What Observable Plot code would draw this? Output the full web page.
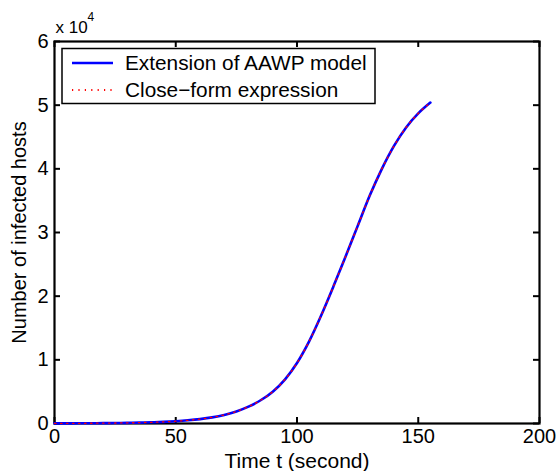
<!DOCTYPE html>
<html>
<head>
<meta charset="utf-8">
<script src="https://cdn.jsdelivr.net/npm/d3@7"></script>
<script src="https://cdn.jsdelivr.net/npm/@observablehq/plot@0.6"></script>
<style>
  html, body { margin: 0; padding: 0; background: #fff; }
  #chart { width: 558px; height: 471px; }
</style>
</head>
<body>
<div id="chart"></div>
<script>
// Time (seconds)
const t = [0,5,10,15,20,25,30,35,40,45,50,55,60,65,70,75,80,85,90,95,100,105,110,115,120,125,130,135,140,145,150,155];
// Extension of AAWP model (number of infected hosts)
const extension = [16,22,30,40,55,75,100,140,190,260,360,500,690,960,1350,1900,2650,3650,5000,6900,9500,12900,17000,21500,26200,31000,35800,40000,43600,46500,48700,50400];
// Close-form expression (coincides with the model)
const closeForm = [16,22,30,40,55,75,100,140,190,260,360,500,690,960,1350,1900,2650,3650,5000,6900,9500,12900,17000,21500,26200,31000,35800,40000,43600,46500,48700,50400];
// Tick values
const xTicks = [0,50,100,150,200];
const yTicks = [0,1,2,3,4,5,6]; // in units of 10^4
const legendLabels = ["Extension of AAWP model", "Close\u2212form expression"];

const W = 558, H = 471;
const mL = 54, mR = 19, mT = 41, mB = 48;
const plotW = W - mL - mR, plotH = H - mT - mB;
const tickLen = 6;
const font = "'Liberation Sans', Arial, Helvetica, sans-serif";

const chart = Plot.plot({
  width: W, height: H,
  marginLeft: mL, marginRight: mR, marginTop: mT, marginBottom: mB,
  x: {domain: [0, 200]},
  y: {domain: [0, 60000]},
  style: {fontFamily: font, fontSize: "20px", color: "black", background: "white", overflow: "visible"},
  marks: [
    Plot.axisX(xTicks, {tickSize: 0, tickPadding: 5, label: null, fontSize: 20}),
    Plot.axisY(yTicks.map(v => v * 1e4), {tickSize: 0, tickPadding: 6, tickFormat: d => d / 1e4, label: null, fontSize: 20}),
    Plot.tickX(xTicks, {x: d => d, insetTop: plotH - tickLen, stroke: "black", strokeWidth: 2}),
    Plot.tickX(xTicks, {x: d => d, insetBottom: plotH - tickLen, stroke: "black", strokeWidth: 2}),
    Plot.tickY(yTicks, {y: d => d * 1e4, insetRight: plotW - tickLen, stroke: "black", strokeWidth: 2}),
    Plot.tickY(yTicks, {y: d => d * 1e4, insetLeft: plotW - tickLen, stroke: "black", strokeWidth: 2}),
    Plot.frame({stroke: "black", strokeWidth: 2.2}),
    Plot.line(t, {x: t, y: extension, stroke: "#0000ff", strokeWidth: 2.6, curve: "monotone-x"}),
    Plot.line(t, {x: t, y: closeForm, stroke: "#ff0000", strokeWidth: 1.3, strokeDasharray: "1.5,4.5", curve: "monotone-x"}),
    Plot.text(["Time t (second)"], {text: d => d, frameAnchor: "bottom", textAnchor: "middle", lineAnchor: "middle", dy: 38, fontSize: 21}),
    Plot.text(["Number of infected hosts"], {text: d => d, frameAnchor: "left", textAnchor: "middle", lineAnchor: "middle", dx: -35, rotate: -90, fontSize: 20}),
    Plot.text(["x 10"], {text: d => d, frameAnchor: "top-left", textAnchor: "start", lineAnchor: "middle", dx: 1, dy: -13.5, fontSize: 17}),
    Plot.text(["4"], {text: d => d, frameAnchor: "top-left", textAnchor: "start", lineAnchor: "middle", dx: 33, dy: -24.5, fontSize: 12})
  ]
});
document.getElementById("chart").appendChild(chart);

// Legend inside the axes (top-left corner)
const svg = d3.select(chart);
const lg = svg.append("g").attr("font-family", font).attr("font-size", 20.8).attr("text-anchor", "start");
const bx = mL + 8, by = mT + 7.5, bw = 313, bh = 55;
lg.append("rect").attr("x", bx).attr("y", by).attr("width", bw).attr("height", bh)
  .attr("fill", "white").attr("stroke", "black").attr("stroke-width", 1.5);
const rows = [
  {stroke: "#0000ff", width: 2.6, dash: null},
  {stroke: "#ff0000", width: 2, dash: "1.2,5.2"}
];
rows.forEach((r, i) => {
  const yy = Math.round(by + 14.5 + i * 26.5);
  const ln = lg.append("line").attr("x1", bx + 10).attr("x2", bx + 51).attr("y1", yy).attr("y2", yy)
    .attr("stroke", r.stroke).attr("stroke-width", r.width);
  if (r.dash) ln.attr("stroke-dasharray", r.dash);
  lg.append("text").attr("x", bx + 63).attr("y", yy).attr("dy", "0.35em").attr("fill", "black")
    .attr("text-anchor", "start").text(legendLabels[i]);
});
</script>
</body>
</html>
